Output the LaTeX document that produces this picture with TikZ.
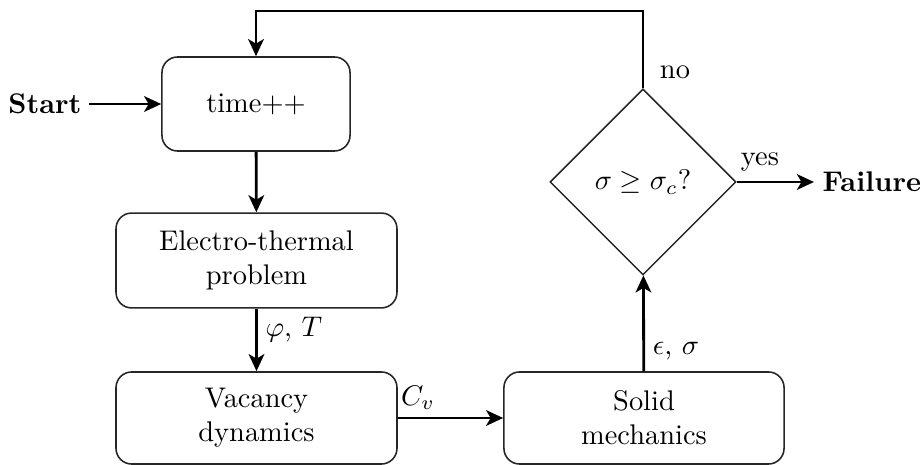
\documentclass[tikz,border=0pt]{standalone}
\usetikzlibrary{shapes.geometric,arrows.meta}
\begin{document}
\begin{tikzpicture}[x=0.352pt,y=-0.352pt,
  blk/.style={draw=black!85,line width=0.55pt,rounded corners=5.5pt,align=center,inner sep=0pt},
  dec/.style={draw=black!85,line width=0.5pt,diamond,aspect=1,minimum width=65.5pt,minimum height=65.5pt,inner sep=0pt},
  arr/.style={line width=1pt,-{Stealth[length=6pt,width=5.5pt,inset=1.6pt]}},
  lbl/.style={inner sep=0pt}]
\useasboundingbox (0,0) rectangle (922,465);
\node[blk,minimum width=66.2pt,minimum height=33.1pt] (time) at (256,104) {time++};
\node[blk,minimum width=98.9pt,minimum height=33.4pt] (elec) at (256.5,260.5) {Electro-thermal\\problem};
\node[blk,minimum width=98.9pt,minimum height=32.4pt] (vac) at (256.5,418) {Vacancy\\dynamics};
\node[blk,minimum width=98.6pt,minimum height=32.4pt] (solid) at (644,418) {Solid\\mechanics};
\node[dec] (dia) at (643,182) {$\sigma\geq\sigma_c$?};
\node[inner sep=2.5pt,anchor=east] (start) at (89,104) {\textbf{Start}};
\node[inner sep=2.8pt,anchor=west] (fail) at (814,182) {\textbf{Failure}};
\coordinate (c1) at (643,11);
\coordinate (c2) at (256,11);
\draw[arr] (start.east) -- (start.east -| time.west);
\draw[arr] (time) -- (elec);
\draw[arr] (elec) -- (vac);
\draw[arr] (vac) -- (solid);
\draw[arr] (solid) -- (dia);
\draw[arr] (dia.east) -- (dia.east -| fail.west);
\draw[arr] (dia.north) -- (c1) -- (c2) -- (time.north);
\node[lbl,anchor=west] (lphi) at (265,330) {$\varphi$, $T$};
\node[lbl] (lcv) at (418,398) {$C_v$};
\node[lbl] (leps) at (676,351) {$\epsilon$, $\sigma$};
\node[lbl] (lno) at (675,72) {no};
\node[lbl] (lyes) at (760,162) {yes};
\end{tikzpicture}
\end{document}
